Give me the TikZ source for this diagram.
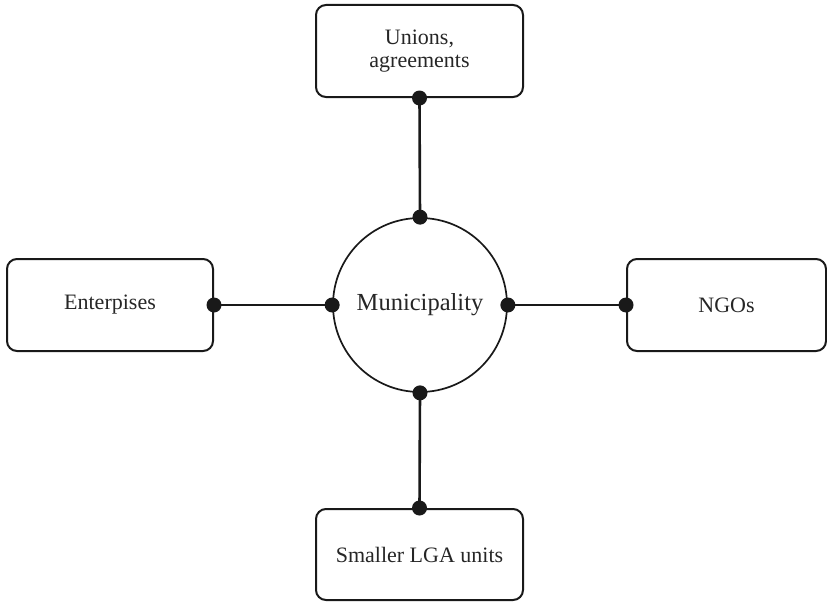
\documentclass[tikz,border=0pt]{standalone}
\usepackage{fontspec}
\setmainfont{Liberation Serif}
\begin{document}
\begin{tikzpicture}[x=1pt,y=-1pt,
  ink/.style={draw=black!90},
  partner/.style={ink, line width=2pt, rounded corners=10pt, rectangle,
    minimum width=207pt, minimum height=92pt, inner sep=0pt,
    align=center, text=black!85, font=\fontsize{22}{22.5}\selectfont},
  hub/.style={ink, line width=1.7pt, circle, minimum size=174pt, inner sep=0pt,
    text=black!85, font=\fontsize{24.5}{28}\selectfont},
  link/.style={draw=black!90, line width=2.6pt},
  pin/.style={circle, fill=black!90, inner sep=0pt, minimum size=15pt}]
  \useasboundingbox (0,0) rectangle (827,602);

  % central actor
  \node[hub] (C) at (420,305) {Municipality};

  % surrounding partners
  \node[partner] (T) at (419.5,51) {Unions,\\agreements};
  \node[partner, minimum width=206pt] (L) at (110,305) {Enterpises};
  \node[partner, minimum width=199pt] (R) at (726.5,305) {NGOs};
  \node[partner, minimum height=91pt] (B) at (419.5,554.5) {Smaller LGA units};

  % connectors with round terminals
  \draw[link] (T.south) -- (C.north);
  \draw[link] (L.east) -- (C.west);
  \draw[link] (C.east) -- (R.west);
  \draw[link] (C.south) -- (B.north);

  \foreach \p [count=\i] in {T.south,C.north,L.east,C.west,C.east,R.west,C.south,B.north}
    \node[pin] (dot\i) at (\p) {};
\end{tikzpicture}
\end{document}
